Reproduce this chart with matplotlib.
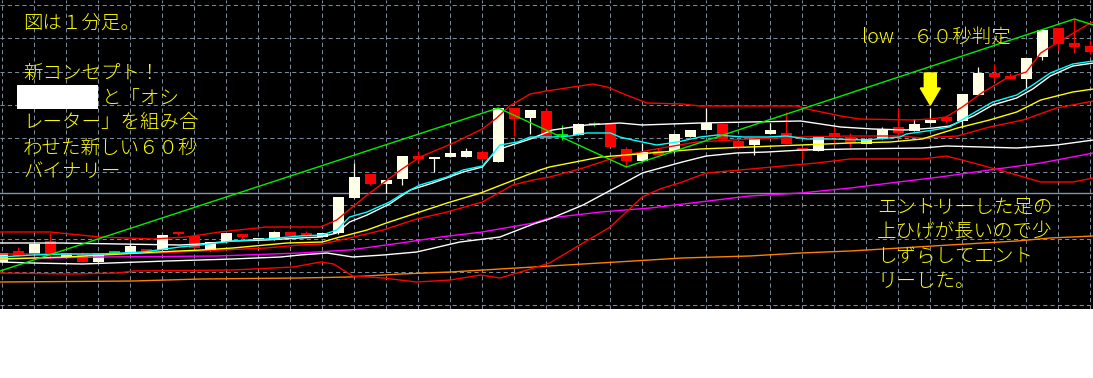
import matplotlib
matplotlib.use("Agg")
import matplotlib.pyplot as plt
from matplotlib.patches import Rectangle, Polygon
import numpy as np

plt.rcParams['font.family'] = ['Noto Sans CJK JP', 'DejaVu Sans']

# ---------------- data (1-minute candles, price in chart units) ----------------
opens  = [48, 59, 56, 69, 52, 56, 48, 58, 58, 61, 60, 78, 74, 60, 68, 76, 70, 70, 78, 77,
          73, 77, 112, 136, 126, 131, 154, 151, 153, 153, 158, 148, 202, 192, 199, 175, 175, 186, 186, 161,
          149, 159, 159, 173, 180, 186, 169, 165, 176, 177, 162, 159, 177, 173, 166, 171, 183, 179, 187, 193,
          189, 215, 237, 234, 231, 253, 282, 267, 264]
highs  = [57, 63, 66, 77, 57, 58, 57, 59, 66, 61, 75, 79, 74, 68, 77, 76, 72, 79, 78, 79,
          77, 113, 147, 136, 130, 154, 159, 153, 172, 162, 160, 202, 202, 200, 202, 185, 186, 188, 186, 163,
          167, 162, 176, 180, 202, 186, 169, 172, 187, 198, 163, 174, 184, 177, 171, 183, 202, 191, 202, 195,
          216, 243, 246, 237, 252, 280, 282, 291, 270]
lows   = [48, 54, 55, 52, 52, 48, 48, 57, 58, 58, 60, 75, 61, 59, 68, 70, 70, 70, 74, 74,
          73, 76, 112, 125, 117, 125, 148, 138, 153, 153, 151, 148, 174, 176, 173, 170, 175, 184, 163, 143,
          149, 155, 157, 173, 180, 171, 162, 155, 176, 166, 151, 159, 166, 163, 166, 171, 172, 179, 187, 187,
          182, 215, 229, 231, 222, 250, 260, 257, 256]
closes = [57, 54, 66, 56, 57, 48, 57, 58, 64, 58, 75, 76, 62, 68, 77, 73, 72, 78, 74, 74,
          77, 113, 133, 126, 130, 154, 151, 153, 157, 159, 151, 202, 191, 200, 173, 175, 186, 186, 163, 149,
          158, 155, 176, 180, 187, 171, 163, 172, 180, 166, 159, 174, 173, 167, 171, 181, 177, 186, 190, 189,
          216, 237, 233, 231, 252, 280, 266, 263, 258]

# indicator lines: x in bar index, y in price
cyan_x = [-0.14, 1.9, 4.0, 6.1, 8.8, 11.1, 12.4, 14.4, 16.5, 18.6, 20.0, 20.9, 21.7, 22.8, 24.2, 24.9, 26.1,
          27.8, 28.8, 30.0, 30.5, 31.1, 32.2, 33.0, 34.4, 35.5, 36.5, 38.0, 38.6, 39.4, 40.9, 42.2, 43.6,
          44.7, 46.3, 47.8, 49.0, 50.3, 51.9, 54.0, 56.1, 56.5, 58.2, 59.2, 60.7, 61.9, 63.4, 64.4, 65.5,
          66.9, 68.2]
cyan_y = [53, 55, 56, 56, 58, 63, 65, 69, 71, 74, 75, 80, 93, 98, 108, 115, 125,
          133, 140, 144, 153, 165, 168, 173, 173, 174, 177, 177, 173, 170, 165, 168, 173,
          175, 173, 173, 174, 171, 171, 170, 173, 176, 180, 183, 197, 208, 215, 225, 237,
          246, 249]

white_fast_x = [-0.14, 3.6, 7.4, 11.1, 12.4, 14.4, 16.5, 18.6, 19.9, 20.9, 21.7, 22.8, 24.2, 25.5, 26.9,
                28.8, 30.0, 30.9, 33.0, 34.4, 36.5, 38.6, 40.0, 43.6, 49.9, 52.4, 54.4, 56.5, 58.2, 59.2,
                60.7, 61.9, 63.4, 64.4, 65.5, 66.9, 68.2]
white_fast_y = [67, 67, 66, 65, 66, 69, 70, 72, 73, 77, 88, 95, 106, 120, 127,
                138, 143, 160, 171, 180, 185, 187, 185, 187, 189, 183, 181, 180, 182, 184,
                194, 205, 212, 221, 234, 244, 247]

yellow_x = [-0.14, 4.0, 9.7, 12.4, 14.4, 17.8, 20.0, 21.1, 22.8, 24.0, 25.9, 27.8, 29.9, 31.5, 33.6,
            34.2, 37.4, 40.5, 43.6, 46.7, 49.9, 53.0, 55.5, 57.5, 59.7, 61.7, 63.4, 64.9, 66.9, 68.2]
yellow_y = [51, 53, 58, 60, 62, 67, 68, 73, 80, 87, 97, 107, 117, 127, 140,
            143, 153, 157, 161, 163, 165, 167, 168, 171, 182, 190, 198, 210, 218, 221]

red_mid_x = [-0.14, 6.1, 9.7, 12.4, 16.5, 18.6, 20.0, 21.7, 23.8, 25.9, 27.8, 30.0, 31.9, 33.2, 34.2,
             36.3, 38.4, 40.5, 43.4, 46.7, 49.9, 53.0, 56.1, 57.5, 59.7, 61.7, 63.8, 65.9, 68.2]
red_mid_y = [56, 56, 57, 59, 62, 65, 66, 72, 80, 91, 98, 108, 125, 130, 133,
             142, 153, 160, 168, 171, 173, 174, 174, 172, 174, 183, 190, 202, 209]

red_upper_x = [-0.14, 3.0, 3.6, 6.1, 9.4, 11.5, 13.6, 16.5, 19.9, 20.9, 22.8, 24.9, 26.1, 28.2, 30.0,
               30.9, 31.7, 33.0, 34.0, 36.1, 36.9, 37.8, 39.0, 40.3, 42.5, 43.6, 49.7, 50.3, 52.4, 53.6,
               56.9, 58.0, 59.0, 60.0, 61.3, 62.8, 64.0, 64.9, 65.9, 68.0, 68.2]
red_upper_y = [78, 78, 77, 73, 71, 73, 78, 83, 83, 90, 115, 140, 153, 167, 181,
               192, 204, 216, 219, 224, 226, 223, 215, 207, 206, 204, 204, 201, 194, 191,
               190, 191, 193, 203, 218, 232, 238, 257, 267, 287, 288]

white_slow_x = [-0.14, 1.9, 5.0, 10.3, 14.4, 17.4, 18.6, 20.3, 21.9, 23.8, 25.9, 28.6, 31.1, 33.2, 34.2,
                36.3, 38.4, 40.0, 42.5, 44.0, 45.9, 47.8, 50.0, 53.0, 57.5, 59.0, 63.4, 65.9, 68.2]
white_slow_y = [48, 47, 46, 49, 51, 53, 55, 57, 53, 55, 58, 68, 73, 86, 91,
                105, 123, 137, 148, 154, 157, 158, 160, 161, 162, 164, 162, 165, 170]

magenta_x = [-0.14, 6.1, 13.4, 18.6, 21.7, 24.9, 27.4, 30.0, 33.2, 34.2, 37.4, 40.5, 43.6, 46.7, 49.9,
             53.0, 55.5, 58.6, 61.7, 64.9, 68.2]
magenta_y = [51, 53, 54, 57, 60, 67, 73, 78, 87, 92, 98, 102, 108, 114, 117,
             122, 127, 133, 140, 147, 157]

red_lower_x = [-0.14, 4.4, 7.2, 8.2, 14.4, 18.2, 19.9, 20.7, 21.9, 23.8, 25.9, 28.0, 29.9, 31.1, 32.8,
               34.2, 36.3, 38.0, 39.0, 40.0, 41.1, 42.5, 44.0, 46.1, 48.8, 50.9, 53.0, 57.5, 59.0, 60.7,
               63.4, 64.9, 66.9, 68.2]
red_lower_y = [37, 36, 37, 39, 40, 43, 48, 46, 34, 32, 28, 30, 35, 32, 40,
               47, 67, 83, 98, 113, 121, 128, 137, 140, 144, 147, 151, 151, 154, 147,
               135, 128, 128, 132]

orange_x = [-0.14, 8.2, 12.4, 18.6, 21.7, 24.9, 28.0, 31.1, 33.2, 34.2, 38.4, 42.5, 46.7, 49.9, 53.0,
            59.2, 63.4, 65.5, 68.2]
orange_y = [28, 29, 31, 32, 33, 36, 38, 41, 43, 44, 48, 52, 54, 57, 59,
            65, 69, 72, 74]

zigzag_x = [-0.14, 31, 39, 67, 68.2]
zigzag_y = [39, 202, 143, 291, 285]

level_price = 117
grid_prices = [305.3, 271.9, 238.5, 205.1, 171.7, 138.3, 104.9, 71.5, 38.1, 4.7]
entry_bar = 58
entry_tip = 205

# ---------------- figure ----------------
W, H = 1093, 378
fig = plt.figure(figsize=(W / 100, H / 100), dpi=100, facecolor='white')
chart_h = 309
ax = fig.add_axes([0, 1 - chart_h / H, 1, chart_h / H])
ax.set_facecolor('black')
ax.set_xlim(-2.3 / 16, (W - 2.3) / 16)
ax.set_ylim(310 - chart_h, 310)
for s in ax.spines.values():
    s.set_visible(False)

idx = np.arange(len(opens))
ax.set_xticks(idx[::2])
ax.set_yticks(grid_prices)
ax.tick_params(length=0, labelbottom=False, labelleft=False)
ax.set_axisbelow(True)
ax.grid(True, color='#7a8a9c', lw=0.75, linestyle=(0, (4, 3)))

ax.axhline(level_price, color='#8494a6', lw=1.0, zorder=1)

o = np.array(opens, float); c = np.array(closes, float)
h = np.array(highs, float); l = np.array(lows, float)
bull = c > o; bear = c < o; doji = c == o
BULL = '#FFFFE6'; BEAR = '#FF0000'; DOJI = '#00FF00'
ax.vlines(idx[bull], l[bull], h[bull], color='#FFFFF0', lw=0.9, zorder=2)
ax.vlines(idx[bear], l[bear], h[bear], color=BEAR, lw=0.9, zorder=2)
ax.vlines(idx[doji], l[doji], h[doji], color=DOJI, lw=0.9, zorder=2)
ax.bar(idx[bull], np.maximum(c - o, 1)[bull], bottom=o[bull], width=0.68, color=BULL, zorder=3)
ax.bar(idx[bear], np.maximum(o - c, 1)[bear], bottom=c[bear], width=0.68, color=BEAR, zorder=3)
ax.hlines(o[doji], idx[doji] - 0.34, idx[doji] + 0.34, color=DOJI, lw=1.2, zorder=3)

lw = 1.0
ax.plot(orange_x, orange_y, color='#FF8000', lw=lw, zorder=4)
ax.plot(magenta_x, magenta_y, color='#FF00FF', lw=lw, zorder=4)
ax.plot(white_slow_x, white_slow_y, color='#FFFFFF', lw=lw, zorder=4)
ax.plot(red_lower_x, red_lower_y, color='#FF0000', lw=lw, zorder=4)
ax.plot(red_mid_x, red_mid_y, color='#FF0000', lw=lw, zorder=4)
ax.plot(yellow_x, yellow_y, color='#FFFF00', lw=lw, zorder=4)
ax.plot(white_fast_x, white_fast_y, color='#FFFFFF', lw=lw, zorder=4)
ax.plot(cyan_x, cyan_y, color='#00FFFF', lw=lw, zorder=4)
ax.plot(red_upper_x, red_upper_y, color='#FF0000', lw=lw, zorder=4)
ax.plot(zigzag_x, zigzag_y, color='#00EE00', lw=lw, zorder=4)

# entry arrow
arrow = Polygon([(entry_bar, entry_tip), (entry_bar - 0.625, entry_tip + 17),
                 (entry_bar - 0.375, entry_tip + 17), (entry_bar - 0.375, entry_tip + 32),
                 (entry_bar + 0.375, entry_tip + 32), (entry_bar + 0.375, entry_tip + 17),
                 (entry_bar + 0.625, entry_tip + 17)], closed=True, color='#FFFF00', zorder=6)
ax.add_patch(arrow)

# ---------------- texts ----------------
TXT = '#FFFF00'
FS = 14
def put(text, x, y):
    fig.text(x / W, 1 - y / H, text, color=TXT, fontsize=FS, fontweight='light',
             ha='left', va='center')

put('図は１分足。', 23, 24)
put('新コンセプト！', 23, 73)
fig.add_artist(Rectangle((17 / W, 1 - 109 / H), 81 / W, 24 / H, transform=fig.transFigure,
                         facecolor='white', edgecolor='none', zorder=5))
put('と「オシ', 102, 98)
put('レーター」を組み合', 23, 123)
put('わせた新しい６０秒', 23, 148)
put('バイナリー', 23, 172)
put('low　６０秒判定', 862, 38)
put('エントリーした足の', 877, 207)
put('上ひげが長いので少', 877, 232)
put('しずらしてエント', 877, 256)
put('リーした。', 877, 281)

fig.savefig('out.png', dpi=100, facecolor='white')
